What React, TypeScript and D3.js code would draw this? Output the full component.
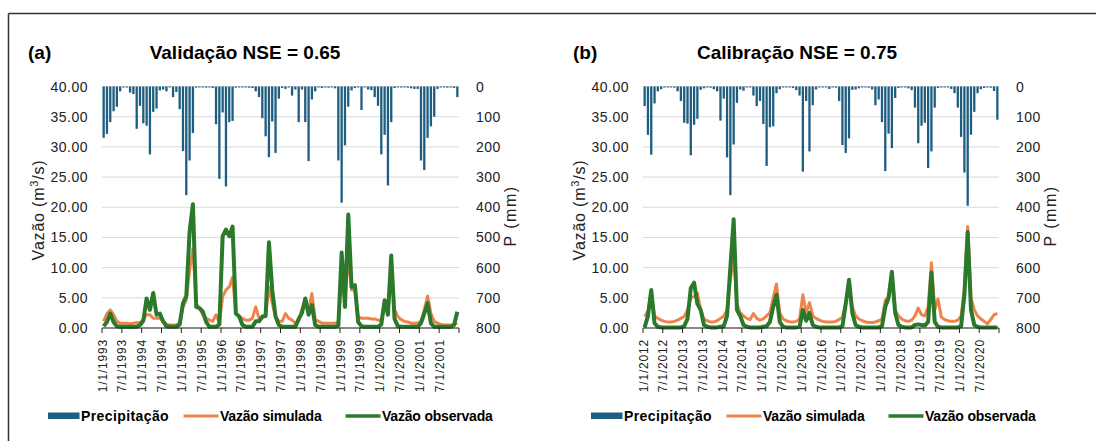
import React from 'react';
import * as d3 from 'd3';

const W = 1096;
const H = 441;

// ---------- Panel (a) Validação 1993-2001 ----------
const ticksA = [
  '1/1/1993', '7/1/1993', '1/1/1994', '7/1/1994', '1/1/1995', '7/1/1995',
  '1/1/1996', '7/1/1996', '1/1/1997', '7/1/1997', '1/1/1998', '7/1/1998',
  '1/1/1999', '7/1/1999', '1/1/2000', '7/1/2000', '1/1/2001', '7/1/2001',
];
const precipA = [
  170, 157, 118, 82, 67, 16, 3, 2, 20, 25, 140, 64,
  122, 130, 225, 84, 73, 13, 10, 16, 3, 35, 18, 75,
  214, 360, 245, 154, 4, 3, 2, 4, 3, 5, 125, 306,
  86, 331, 118, 114, 4, 3, 2, 3, 4, 5, 16, 35,
  105, 165, 234, 116, 220, 40, 5, 8, 3, 30, 10, 118,
  10, 118, 247, 43, 16, 3, 5, 2, 4, 3, 6, 245,
  385, 195, 67, 13, 5, 3, 78, 3, 10, 12, 35, 64,
  225, 160, 328, 118, 5, 3, 2, 3, 4, 6, 8, 8,
  245, 277, 170, 132, 100, 8, 3, 2, 4, 3, 5, 35,
];
const simA = [
  1.1, 2.4, 3.0, 2.2, 1.1, 0.8, 0.8, 0.8, 0.7, 0.8, 0.9, 0.8,
  1.5, 2.2, 2.2, 1.6, 1.6, 1.6, 1.1, 0.6, 0.5, 0.5, 0.5, 0.8,
  3.5, 4.6, 9.5, 13.2, 4.0, 3.3, 2.2, 1.6, 1.3, 1.1, 2.2, 0.8,
  5.2, 6.3, 6.8, 8.4, 2.4, 1.9, 1.6, 1.3, 1.3, 1.6, 3.5, 1.6,
  1.6, 2.2, 6.8, 4.1, 1.9, 1.1, 1.1, 2.4, 1.6, 1.3, 0.8, 1.1,
  3.2, 4.6, 3.0, 5.7, 1.4, 1.1, 0.8, 0.8, 0.8, 0.8, 0.8, 1.0,
  8.4, 4.6, 11.7, 6.3, 6.3, 1.9, 1.6, 1.6, 1.6, 1.5, 1.5, 1.3,
  1.3, 4.1, 2.4, 10.0, 3.0, 1.9, 1.4, 1.1, 1.0, 0.8, 0.8, 0.8,
  1.1, 3.0, 5.3, 2.4, 1.1, 0.8, 0.6, 0.5, 0.5, 0.5, 0.6, 0.8,
];
const obsA = [
  0.3, 1.0, 2.4, 1.0, 0.3, 0.2, 0.2, 0.2, 0.2, 0.2, 0.2, 0.5,
  1.2, 4.9, 3.0, 5.8, 2.2, 2.4, 1.1, 0.3, 0.2, 0.2, 0.2, 0.6,
  4.1, 5.3, 16.0, 20.5, 3.5, 3.3, 2.7, 1.0, 0.2, 0.2, 0.2, 0.6,
  15.2, 16.3, 15.2, 16.8, 2.4, 1.9, 0.5, 0.2, 0.2, 0.2, 1.1, 1.1,
  1.9, 2.0, 14.2, 6.3, 1.9, 0.5, 0.2, 0.2, 0.2, 0.2, 0.2, 1.5,
  2.5, 4.9, 2.2, 3.8, 0.5, 0.2, 0.2, 0.2, 0.2, 0.2, 0.2, 0.4,
  12.5, 3.5, 18.8, 6.8, 7.1, 1.0, 0.3, 0.2, 0.2, 0.2, 0.2, 0.2,
  0.6, 4.6, 2.2, 12.0, 1.5, 0.3, 0.2, 0.2, 0.2, 0.2, 0.2, 0.2,
  0.8, 2.4, 4.1, 0.8, 0.2, 0.2, 0.2, 0.2, 0.2, 0.2, 0.5, 2.7,
];

// ---------- Panel (b) Calibração 2012-2020 ----------
const ticksB = [
  '1/1/2012', '7/1/2012', '1/1/2013', '7/1/2013', '1/1/2014', '7/1/2014',
  '1/1/2015', '7/1/2015', '1/1/2016', '7/1/2016', '1/1/2017', '7/1/2017',
  '1/1/2018', '7/1/2018', '1/1/2019', '7/1/2019', '1/1/2020', '7/1/2020',
];
const precipB = [
  65, 160, 226, 56, 16, 9, 3, 2, 3, 4, 16, 48,
  120, 123, 228, 127, 107, 11, 6, 3, 4, 9, 16, 113,
  40, 235, 360, 192, 54, 10, 14, 3, 2, 30, 65, 48,
  124, 263, 135, 132, 22, 9, 3, 2, 3, 5, 12, 30,
  282, 48, 215, 62, 10, 3, 2, 3, 8, 2, 4, 48,
  194, 220, 172, 11, 10, 6, 3, 2, 4, 10, 62, 43,
  118, 280, 156, 204, 38, 5, 3, 2, 6, 12, 70, 188,
  130, 120, 270, 215, 70, 5, 3, 2, 3, 8, 22, 70,
  167, 285, 395, 160, 84, 22, 9, 5, 3, 4, 15, 110,
];
const simB = [
  1.9, 2.8, 5.8, 2.0, 1.6, 1.3, 1.1, 1.0, 1.0, 1.1, 1.3, 1.6,
  1.9, 3.0, 5.0, 5.2, 5.8, 3.0, 1.5, 1.2, 1.0, 1.0, 1.2, 1.6,
  2.0, 3.0, 8.0, 12.0, 4.0, 2.5, 2.0, 1.6, 1.4, 2.4, 1.6, 1.3,
  1.5, 2.0, 2.5, 5.0, 7.3, 2.5, 1.5, 1.2, 1.0, 1.0, 1.1, 1.5,
  5.5, 2.5, 4.2, 2.0, 1.6, 1.3, 1.1, 1.0, 1.0, 1.0, 1.1, 1.4,
  1.8, 4.0, 7.6, 3.5, 2.0, 1.5, 1.2, 1.0, 0.9, 0.9, 1.0, 1.2,
  1.5, 4.6, 5.2, 9.2, 3.0, 2.0, 1.5, 1.2, 1.1, 1.3, 2.0, 3.3,
  2.2, 2.0, 3.5, 10.8, 3.0, 4.8, 1.8, 1.4, 1.2, 1.1, 1.1, 1.3,
  2.0, 6.5, 16.8, 5.0, 3.0, 2.0, 1.5, 1.1, 0.7, 1.4, 2.2, 2.4,
];
const obsB = [
  0.1, 2.0, 6.3, 0.8, 0.2, 0.1, 0.1, 0.1, 0.1, 0.1, 0.1, 0.1,
  0.3, 1.5, 6.6, 7.5, 4.0, 3.0, 0.5, 0.2, 0.1, 0.1, 0.1, 0.2,
  0.3, 2.0, 10.0, 18.0, 3.0, 2.0, 0.5, 0.2, 0.1, 0.1, 0.1, 0.1,
  0.2, 0.3, 1.0, 3.5, 5.5, 1.0, 0.2, 0.1, 0.1, 0.1, 0.1, 0.2,
  3.0, 1.2, 2.5, 0.5, 0.2, 0.1, 0.1, 0.1, 0.1, 0.1, 0.1, 0.1,
  0.3, 4.0, 8.0, 2.5, 0.5, 0.2, 0.1, 0.1, 0.1, 0.1, 0.1, 0.1,
  0.3, 3.5, 5.0, 9.3, 2.5, 0.5, 0.2, 0.1, 0.1, 0.1, 0.5, 0.6,
  0.5, 0.4, 1.0, 9.2, 1.0, 0.2, 0.1, 0.1, 0.1, 0.1, 0.1, 0.1,
  0.3, 5.5, 15.9, 3.0, 0.5, 0.2, 0.1, 0.1, 0.1, 0.1, 0.1, 0.1,
];

const leftTicks = [0, 5, 10, 15, 20, 25, 30, 35, 40];
const rightTicks = [0, 100, 200, 300, 400, 500, 600, 700, 800];
const legendLabels = ['Precipitação', 'Vazão simulada', 'Vazão observada'];

const BLUE = '#1f5e80';
const ORANGE = '#ee844a';
const GREEN = '#2b7a2c';
const FONT = 'Liberation Sans, Arial, sans-serif';

type PanelProps = {
  x0: number; x1: number; letter: string; letterX: number; title: string; titleCx: number;
  legendX: number; precip: number[]; sim: number[]; obs: number[]; ticks: string[];
};

function Panel(p: PanelProps) {
  const yTop = 86.5;
  const yBot = 328;
  const n = p.precip.length;
  const xm = d3.scaleLinear().domain([0, n]).range([p.x0, p.x1]);
  const yL = d3.scaleLinear().domain([0, 40]).range([yBot, yTop]);
  const yR = d3.scaleLinear().domain([0, 800]).range([yTop, yBot]);
  const line = d3.line<number>().x((_, i) => xm(i + 0.5)).y((d) => yL(d));
  const tickIdx = d3.range(0, n + 1, 6);
  const midY = 210;
  const ly = 416;
  return (
    <g>
      <text x={p.letterX} y={59} fontFamily={FONT} fontWeight="bold" fontSize={19}>{p.letter}</text>
      <text x={p.titleCx} y={59} textAnchor="middle" fontFamily={FONT} fontWeight="bold" fontSize={19}>{p.title}</text>
      {leftTicks.map((t) => (
        <line key={'g' + t} x1={p.x0} x2={p.x1} y1={yL(t)} y2={yL(t)} stroke="#d9d9d9" strokeWidth={1} />
      ))}
      {p.precip.map((v, i) => (
        <rect key={'b' + i} x={xm(i + 0.15)} width={xm(i + 0.85) - xm(i + 0.15)} y={yTop}
          height={Math.max(1, yR(v) - yTop)} fill={BLUE} />
      ))}
      <path d={line(p.sim) || ''} fill="none" stroke={ORANGE} strokeWidth={3} strokeLinejoin="round" />
      <path d={line(p.obs) || ''} fill="none" stroke={GREEN} strokeWidth={4} strokeLinejoin="round" />
      <line x1={p.x0} x2={p.x1} y1={yBot} y2={yBot} stroke="#222" strokeWidth={1.2} />
      {tickIdx.map((k) => (
        <line key={'t' + k} x1={xm(k)} x2={xm(k)} y1={yBot} y2={yBot + 5} stroke="#222" strokeWidth={1} />
      ))}
      {p.ticks.map((t, k) => (
        <text key={'tl' + k} transform={`translate(${xm(k * 6) + 4.5},${339}) rotate(-90)`}
          textAnchor="end" fontFamily={FONT} fontSize={12} letterSpacing={0.8} fill="#222">{t}</text>
      ))}
      {leftTicks.map((t) => (
        <text key={'l' + t} x={p.x0 - 14} y={yL(t) + 5} textAnchor="end" fontFamily={FONT}
          fontSize={14} letterSpacing={0.5} fill="#222">{t.toFixed(2)}</text>
      ))}
      {rightTicks.map((t) => (
        <text key={'r' + t} x={p.x1 + 17} y={yR(t) + 5} fontFamily={FONT}
          fontSize={14} letterSpacing={0.5} fill="#222">{t}</text>
      ))}
      <text transform={`translate(${p.x0 - 58},${midY}) rotate(-90)`} textAnchor="middle"
        fontFamily={FONT} fontSize={16} letterSpacing={0.8} fill="#222">
        Vazão  (m<tspan dy={-6} fontSize={11}>3</tspan><tspan dy={6}>/s)</tspan>
      </text>
      <text transform={`translate(${p.x1 + 57},${midY + 6}) rotate(-90)`} textAnchor="middle"
        fontFamily={FONT} fontSize={16} letterSpacing={1.5} fill="#222">P (mm)</text>
      <g>
        <rect x={p.legendX} y={ly - 3.5} width={31.5} height={6.5} fill={BLUE} />
        <text x={p.legendX + 33} y={ly + 5} fontFamily={FONT} fontWeight="bold" fontSize={14} letterSpacing={0.4}>{legendLabels[0]}</text>
        <line x1={p.legendX + 135.5} x2={p.legendX + 170.5} y1={ly} y2={ly} stroke={ORANGE} strokeWidth={3} />
        <text x={p.legendX + 172} y={ly + 5} fontFamily={FONT} fontWeight="bold" fontSize={14} letterSpacing={-0.2}>{legendLabels[1]}</text>
        <line x1={p.legendX + 297.5} x2={p.legendX + 332.5} y1={ly} y2={ly} stroke={GREEN} strokeWidth={3.5} />
        <text x={p.legendX + 334} y={ly + 5} fontFamily={FONT} fontWeight="bold" fontSize={14} letterSpacing={-0.2}>{legendLabels[2]}</text>
      </g>
    </g>
  );
}

export default function App() {
  return (
    <svg width={W} height={H} style={{ position: 'absolute', left: 0, top: 0, background: '#fff' }}
      xmlns="http://www.w3.org/2000/svg">
      <rect x={0} y={0} width={W} height={H} fill="#fff" />
      <line x1={8.5} x2={W} y1={13.5} y2={13.5} stroke="#333" strokeWidth={1.5} />
      <line x1={8.5} x2={8.5} y1={13.5} y2={H} stroke="#333" strokeWidth={1.5} />
      <Panel x0={102} x1={459} letter="(a)" letterX={28} title="Validação NSE = 0.65" titleCx={245}
        legendX={48} precip={precipA} sim={simA} obs={obsA} ticks={ticksA} />
      <Panel x0={643} x1={999} letter="(b)" letterX={573} title="Calibração NSE = 0.75" titleCx={797}
        legendX={591} precip={precipB} sim={simB} obs={obsB} ticks={ticksB} />
    </svg>
  );
}
